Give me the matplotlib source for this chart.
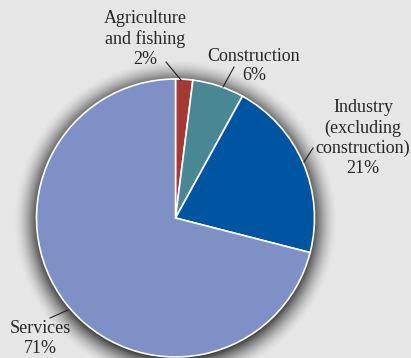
import numpy as np
import matplotlib
matplotlib.use("Agg")
import matplotlib.pyplot as plt

categories = ["Agriculture\nand fishing", "Construction", "Industry\n(excluding\nconstruction)", "Services"]
values = [2, 6, 21, 71]
colors = ["#a53a34", "#4a8795", "#0055a2", "#7e90c6"]

W, H = 411, 358
fig = plt.figure(figsize=(W / 100, H / 100), dpi=100)
fig.patch.set_facecolor("#e6e6e7")

cx, cy, r = 175.5, H - 218, 139

# soft dark glow around the pie (figure pixel image)
yy, xx = np.mgrid[0:H, 0:W]
d = np.hypot(xx + 0.5 - cx, (H - yy - 0.5) - (cy - 3))
t = np.clip((d - r + 4) / 27.0, 0, 1)
alpha = (1 - t) ** 1.7 * 0.92
alpha[d < r - 6] = 0
img = np.zeros((H, W, 4))
img[..., 0:3] = 0.08
img[..., 3] = alpha
fig.figimage(img, xo=0, yo=0, origin="upper", zorder=0)

ax = fig.add_axes([0, 0, 1, 1])
ax.set_zorder(2)
ax.patch.set_alpha(0)
ax.pie(values, colors=colors, startangle=90, counterclock=False, center=(cx, cy), radius=r,
       wedgeprops=dict(edgecolor="white", linewidth=1.2), frame=True)
ax.set_xlim(0, W)
ax.set_ylim(0, H)
ax.set_aspect("equal")
ax.axis("off")

fs = 13
fam = "Liberation Serif"
tc = "#262626"
labels = [f"{c}\n{v}%" for c, v in zip(categories, values)]
pos = [(145, 39), (254, 66), (363, 138), (40, 338.5)]
for lab, (x, y) in zip(labels, pos):
    ax.text(x, H - y, lab, ha="center", va="center", fontsize=fs, family=fam,
            color=tc, linespacing=1.22, zorder=5)

lines = [((166, 62), (181, 80)), ((234, 67), (223, 87)), ((313, 148), (304, 162)), ((50, 318), (68, 310))]
for (x1, y1), (x2, y2) in lines:
    ax.plot([x1, x2], [H - y1, H - y2], color="#222222", lw=0.8, zorder=5)

fig.savefig("out.png", dpi=100, facecolor=fig.get_facecolor())
